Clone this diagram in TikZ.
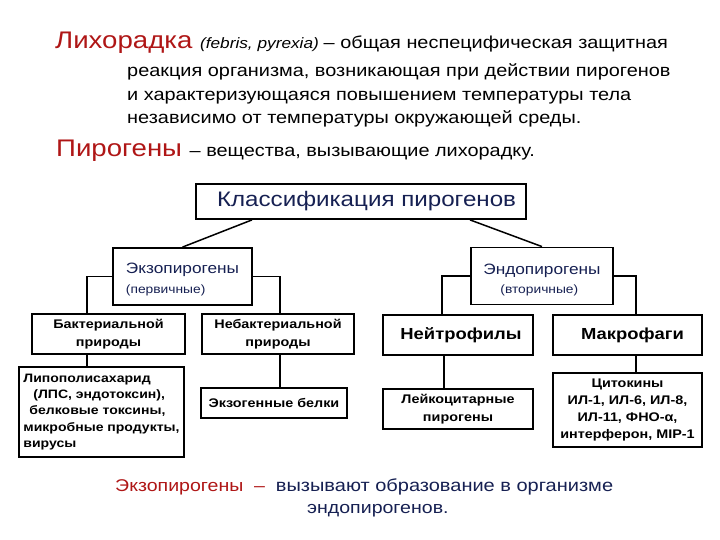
\documentclass[tikz,border=0pt]{standalone}
\usepackage{fontspec}
\setmainfont[FakeStretch=1.15]{Liberation Sans}
\usetikzlibrary{positioning,calc}
\definecolor{darkred}{RGB}{175,22,22}
\definecolor{navy}{RGB}{22,32,82}
\newcommand{\fsz}[2]{\fontsize{#1}{#2}\selectfont}

\begin{document}
\begin{tikzpicture}[x=1pt,y=-1pt,
  txt/.style={anchor=base west,inner sep=0pt},
  box/.style={draw,line width=1.8pt,inner sep=0pt,align=center},
  smallbox/.style={box,font=\bfseries\fsz{12.5}{18}},
  groupbox/.style={box,minimum height=57,text=navy,align=left,font=\fsz{15}{19.5}},
  wire/.style={line width=1.8pt}]
\useasboundingbox (0,0) rectangle (720,540);

% definitions at the top
\node[txt] (fever) at (55,49) {{\color{darkred}\fsz{24}{24}Лихорадка }{\fsz{15}{15}\itshape(febris, pyrexia) }{\fsz{17.3}{20}– общая неспецифическая защитная}};
\node[txt,font=\fsz{17.3}{20}] (def2) at (127,77) {реакция организма, возникающая при действии пирогенов};
\node[txt,font=\fsz{17.3}{20}] (def3) at (127,101) {и характеризующаяся повышением температуры тела};
\node[txt,font=\fsz{17.3}{20}] (def4) at (127,124) {независимо от температуры окружающей среды.};
\node[txt] (pyro) at (56,157) {{\color{darkred}\fsz{24}{24}Пирогены }{\fsz{17.3}{20}– вещества, вызывающие лихорадку.}};

% classification
\node[box,minimum width=330,minimum height=35,text=navy,font=\fsz{21}{22}] (cls) at (361,201.5) {\hspace*{11pt}Классификация пирогенов};
\node[groupbox,minimum width=139] (exo) at (182.5,276.5)
  {\rule{0pt}{16.5pt}Экзопирогены\\\fsz{12}{19.5}(первичные)};
\node[groupbox,minimum width=142] (endo) at (542,276)
  {\rule{0pt}{18pt}Эндопирогены\\\fsz{12}{19.5}\hspace*{17pt}(вторичные)};

\node[smallbox,minimum width=153,minimum height=40] (bact) at (108.5,334) {Бактериальной\\природы};
\node[smallbox,minimum width=152,minimum height=40] (nonbact) at (278,334) {Небактериальной\\природы};
\node[box,minimum width=150,minimum height=40,font=\bfseries\fsz{16}{18}] (neut) at (458,335) {\hspace*{6pt}Нейтрофилы};
\node[box,minimum width=149,minimum height=40,font=\bfseries\fsz{16}{18}] (macro) at (627.5,335) {\hspace*{10pt}Макрофаги};

\node[smallbox,minimum width=165,minimum height=90,align=left,font=\bfseries\fsz{12.2}{16.3}] (lps) at (101.5,412)
  {Липополисахарид\\\hspace*{10pt}(ЛПС, эндотоксин),\\\hspace*{6pt}белковые токсины,\\микробные продукты,\\вирусы};
\node[smallbox,minimum width=146,minimum height=30] (exoprot) at (274,403) {Экзогенные белки};
\node[smallbox,minimum width=150,minimum height=40] (leuk) at (458,409) {Лейкоцитарные\\пирогены};
\node[smallbox,minimum width=149,minimum height=74,font=\bfseries\fsz{12.5}{17}] (cyto) at (627.5,410)
  {Цитокины\\ИЛ-1, ИЛ-6, ИЛ-8,\\ИЛ-11, ФНО-α,\\интерферон, MIP-1};

% connectors
\draw[line width=1.5pt] ([xshift=-109pt]cls.south) -- (exo.north);
\draw[line width=1.5pt] ([xshift=109pt]cls.south) -- (endo.north);
\draw[wire] (exo.west) -| ([xshift=56pt]bact.north west);
\draw[wire] (exo.east) -| ([xshift=79pt]nonbact.north west);
\draw[wire] (endo.west) -| ([xshift=60pt]neut.north west);
\draw[wire] (endo.east) -| ([xshift=84pt]macro.north west);
\draw[wire] ([xshift=56pt]bact.south west) coordinate (b1) -- (b1 |- lps.north);
\draw[wire] ([xshift=79pt]nonbact.south west) coordinate (b2) -- (b2 |- exoprot.north);
\draw[wire] ([xshift=62pt]neut.south west) coordinate (b3) -- (b3 |- leuk.north);
\draw[wire] ([xshift=84pt]macro.south west) coordinate (b4) -- (b4 |- cyto.north);

% note at the bottom
\node[txt,font=\fsz{17}{18}] (note1) at (115,491) {{\color{darkred}Экзопирогены \ –}\ \ {\color{navy}\fsz{17.4}{18}вызывают образование в организме}};
\node[txt,font=\fsz{17}{18},text=navy] (note2) at (307,513) {эндопирогенов.};
\end{tikzpicture}
\end{document}
